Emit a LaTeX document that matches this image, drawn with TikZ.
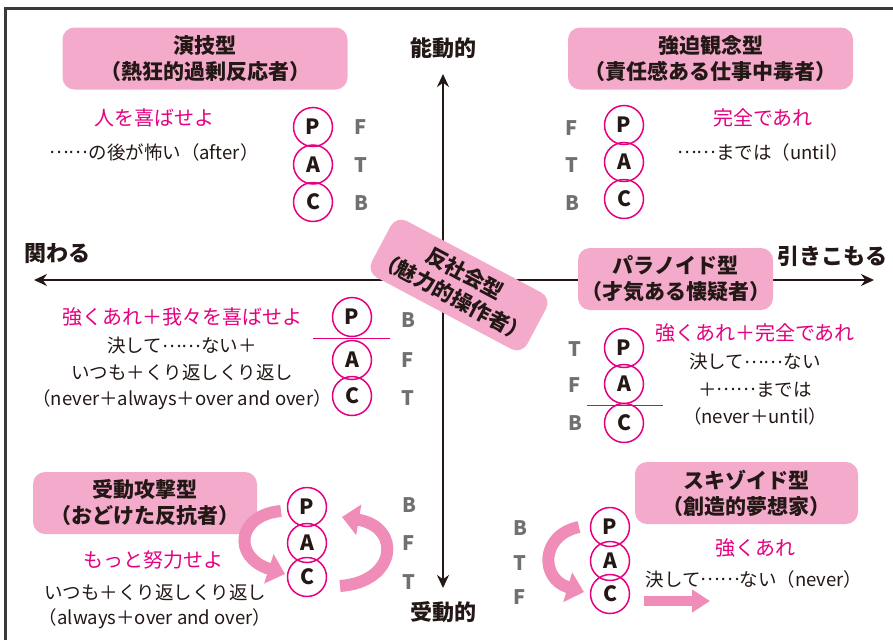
\documentclass[tikz,border=0pt]{standalone}
\usepackage{fontspec}
\setmainfont{Noto Sans CJK JP}
\usetikzlibrary{arrows.meta,calc}
\definecolor{boxpink}{HTML}{F4ABCB}
\definecolor{arrpink}{HTML}{F08CB8}
\definecolor{mag}{HTML}{E4007F}
\definecolor{lgray}{HTML}{707070}
\definecolor{ink}{HTML}{231815}
\definecolor{framec}{HTML}{3A3A3A}
\newcommand{\jdots}{\raisebox{0.3em}{……}}
\begin{document}
\begin{tikzpicture}[x=1pt,y=-1pt,
  titlebox/.style={fill=boxpink, rounded corners=12pt, align=center, inner sep=0pt,
     minimum height=62pt, font=\bfseries\fontsize{21}{26}\selectfont, text=ink},
  pac/.style={circle, draw=mag, line width=1.5pt, minimum size=39pt, inner sep=0pt,
     font=\bfseries\fontsize{21}{21}\selectfont, text=ink},
  glet/.style={font=\bfseries\fontsize{20}{20}\selectfont, text=lgray, inner sep=0pt},
  magtext/.style={font=\fontsize{20}{24}\selectfont, text=mag, inner sep=0pt},
  bodytext/.style={font=\fontsize{18.5}{26.5}\selectfont, text=ink, align=center, inner sep=0pt},
  axislabel/.style={font=\bfseries\fontsize{22}{22}\selectfont, text=ink, inner sep=0pt},
  axisline/.style={draw=ink, line width=1.8pt, {Stealth[length=13pt,width=12pt]}-{Stealth[length=13pt,width=12pt]}},
  frameline/.style={draw=framec, line width=3pt},
  divider/.style={draw=mag, line width=1pt},
  bandarrow/.style={draw=arrpink, line width=12pt, -{Triangle[length=17pt,width=30pt]}},
  straightarrow/.style={draw=arrpink, line width=10pt, -{Triangle[length=18pt,width=22pt]}}
]
\useasboundingbox (0,0) rectangle (893,640);

% frame
\coordinate (fBL) at (5.5,640);
\coordinate (fTL) at (5.5,8.5);
\coordinate (fTR) at (893,8.5);
\draw[frameline] (fBL) -- (fTL) -- (fTR);

% axes
\coordinate (axT) at (443,74);
\coordinate (axB) at (443,588);
\coordinate (axL) at (34,280);
\coordinate (axR) at (874,280);
\draw[axisline] (axT) -- (axB);
\draw[axisline] (axL) -- (axR);

\node[axislabel] (lblTop) at (443,48) {能動的};
\node[axislabel] (lblBot) at (443,612) {受動的};
\node[axislabel] (lblLeft) at (57,254) {関わる};
\node[axislabel] (lblRight) at (832,256) {引きこもる};

% title boxes
\node[titlebox, minimum width=285pt] (tEngi) at (205,58.5) {演技型\\（熱狂的過剰反応者）};
\node[titlebox, minimum width=285pt] (tKyo) at (710.5,58.5) {強迫観念型\\（責任感ある仕事中毒者）};
\node[titlebox, minimum width=195pt] (tPara) at (675.5,279) {パラノイド型\\（才気ある懐疑者）};
\node[titlebox, minimum width=224pt] (tJudo) at (145,503) {受動攻撃型\\（おどけた反抗者）};
\node[titlebox, minimum width=223pt] (tSchi) at (746.5,493) {スキゾイド型\\（創造的夢想家）};
\node[titlebox, minimum width=176pt, minimum height=64pt, rotate=-28] (tAnti) at (459,285) {反社会型\\（魅力的操作者）};

% ---- top-left group
\node[pac] (tlP) at (313,127) {P};
\node[pac] (tlA) at (313,164.5) {A};
\node[pac] (tlC) at (313,202) {C};
\node[glet] (tlF) at (361,127) {F};
\node[glet] (tlT) at (361,165) {T};
\node[glet] (tlB) at (361,203) {B};
\node[magtext] (tlM) at (154,118) {人を喜ばせよ};
\node[bodytext] (tlBody) at (154,152) {\jdots の後が怖い（after）};

% ---- top-right group
\node[pac] (trP) at (624,125) {P};
\node[pac] (trA) at (624,162) {A};
\node[pac] (trC) at (624,199) {C};
\node[glet] (trF) at (572,128) {F};
\node[glet] (trT) at (572,165) {T};
\node[glet] (trB) at (572,203) {B};
\node[magtext] (trM) at (763,118) {完全であれ};
\node[bodytext] (trBody) at (763,152) {\jdots までは（until）};

% ---- left-middle group
\node[pac] (lmP) at (352,317) {P};
\node[pac] (lmA) at (352,360) {A};
\node[pac] (lmC) at (352,396) {C};
\coordinate (lmD1) at (313,338);
\coordinate (lmD2) at (390,338);
\draw[divider] (lmD1) -- (lmD2);
\node[glet] (lmB) at (408,320) {B};
\node[glet] (lmF) at (408,360) {F};
\node[glet] (lmT) at (408,398) {T};
\node[magtext] (lmM) at (182,317) {強くあれ＋我々を喜ばせよ};
\node[bodytext] (lmBody) at (182,373.5) {決して\jdots ない＋\\いつも＋くり返しくり返し\\（never＋always＋over and over）};

% ---- right-middle group
\node[pac] (rmP) at (624,348) {P};
\node[pac] (rmA) at (624,384) {A};
\node[pac] (rmC) at (624,423) {C};
\coordinate (rmD1) at (587,405);
\coordinate (rmD2) at (663,405);
\draw[divider] (rmD1) -- (rmD2);
\node[glet] (rmT) at (575,349) {T};
\node[glet] (rmF) at (575,385) {F};
\node[glet] (rmB) at (575,423) {B};
\node[magtext] (rmM) at (755,333) {強くあれ＋完全であれ};
\node[bodytext, font=\fontsize{18.5}{27.5}\selectfont] (rmBody) at (755,389.5) {決して\jdots ない\\＋\jdots までは\\（never＋until）};

% ---- bottom-left group
\node[pac] (blP) at (307,507) {P};
\node[pac] (blA) at (307,543) {A};
\node[pac] (blC) at (307,577) {C};
\node[glet] (blB) at (409,505) {B};
\node[glet] (blF) at (409,543) {F};
\node[glet] (blT) at (409,582) {T};
\node[magtext] (blM) at (153,560) {もっと努力せよ};
\node[bodytext, font=\fontsize{18.5}{25}\selectfont] (blBody) at (155,606.5) {いつも＋くり返しくり返し\\（always＋over and over）};
\coordinate (blL1) at ($(blP)+(-26,4)$);
\coordinate (blL2) at ($(blC)+(-22,-3)$);
\draw[bandarrow] (blL1) .. controls ($(blP)+(-70,8)$) and ($(blC)+(-75,-20)$) .. (blL2);
\coordinate (blR1) at ($(blC)+(33,9)$);
\coordinate (blR2) at ($(blP)+(35,10)$);
\draw[bandarrow] (blR1) .. controls ($(blC)+(90,5)$) and ($(blP)+(95,20)$) .. (blR2);

% ---- bottom-right group
\node[pac] (brP) at (610,527) {P};
\node[pac] (brA) at (610,561) {A};
\node[pac] (brC) at (610,594) {C};
\node[glet] (brB) at (520,528) {B};
\node[glet] (brT) at (520,563) {T};
\node[glet] (brF) at (520,597) {F};
\node[magtext] (brM) at (755,548) {強くあれ};
\node[bodytext] (brBody) at (754,579) {決して\jdots ない（never）};
\coordinate (brL1) at ($(brP)+(-31,0)$);
\coordinate (brL2) at ($(brC)+(-26,-2)$);
\draw[bandarrow] (brL1) .. controls ($(brP)+(-70,8)$) and ($(brC)+(-70,-15)$) .. (brL2);
\coordinate (brS1) at ($(brC)+(34,7)$);
\coordinate (brS2) at ($(brC)+(100,7)$);
\draw[straightarrow] (brS1) -- (brS2);
\end{tikzpicture}
\end{document}
